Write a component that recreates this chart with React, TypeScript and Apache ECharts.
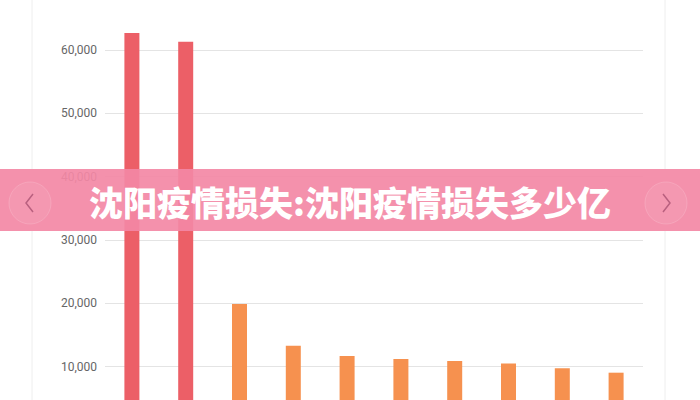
import React, { useEffect, useRef } from "react";
import * as echarts from "echarts";

const categories = ["1", "2", "3", "4", "5", "6", "7", "8", "9", "10"];
const values = [62700, 61300, 19900, 13300, 11700, 11200, 10900, 10500, 9750, 9050];
const highlightCount = 2;
const yTicks = [0, 10000, 20000, 30000, 40000, 50000, 60000, 70000];
const bannerTitle = "沈阳疫情损失:沈阳疫情损失多少亿";

const RED = "#ec5f67";
const ORANGE = "#f6914f";
const OFFSET = 20; // chart canvas starts 20px above the visible page

export default function App() {
  const ref = useRef<HTMLDivElement>(null);
  useEffect(() => {
    if (!ref.current) return;
    const chart = echarts.init(ref.current, undefined, { renderer: "svg" });
    const Y = (y: number) => y + OFFSET;
    chart.setOption({
      animation: false,
      backgroundColor: "#ffffff",
      grid: { left: 105, right: 57, top: 6.7, bottom: 10, containLabel: false },
      xAxis: {
        type: "category",
        data: categories,
        axisLine: { show: false },
        axisTick: { show: false },
        axisLabel: { show: false },
      },
      yAxis: {
        type: "value",
        min: yTicks[0],
        max: yTicks[yTicks.length - 1],
        interval: 10000,
        axisLine: { show: false },
        axisTick: { show: false },
        splitLine: { lineStyle: { color: "#e4e4e4", width: 1 } },
        axisLabel: {
          margin: 8,
          color: "#666666",
          fontSize: 12,
          fontFamily: "Roboto, sans-serif",
          showMinLabel: false,
          showMaxLabel: false,
          formatter: (v: number) => v.toLocaleString("en-US"),
        },
      },
      series: [
        {
          type: "bar",
          barWidth: 15,
          data: values.map((v, i) => ({
            value: v,
            itemStyle: { color: i < highlightCount ? RED : ORANGE },
          })),
        },
      ],
      graphic: [
        { type: "line", shape: { x1: 32, y1: 0, x2: 32, y2: 460 }, style: { stroke: "#eeeeee", lineWidth: 1 }, z: 0 },
        { type: "line", shape: { x1: 665, y1: 0, x2: 665, y2: 460 }, style: { stroke: "#eeeeee", lineWidth: 1 }, z: 0 },
        {
          type: "rect",
          shape: { x: 0, y: Y(169), width: 700, height: 62 },
          style: { fill: "rgba(243,136,165,0.92)" },
          z: 100,
        },
        {
          type: "circle",
          shape: { cx: 30, cy: Y(203), r: 21 },
          style: { fill: "rgba(255,255,255,0.07)", stroke: "rgba(255,255,255,0.15)", lineWidth: 1 },
          z: 101,
        },
        {
          type: "circle",
          shape: { cx: 666, cy: Y(203), r: 21 },
          style: { fill: "rgba(255,255,255,0.07)", stroke: "rgba(255,255,255,0.15)", lineWidth: 1 },
          z: 101,
        },
        {
          type: "polyline",
          shape: { points: [[33, Y(194)], [26, Y(203)], [33, Y(212)]] },
          style: { stroke: "#b9607f", lineWidth: 1.5, fill: "none" },
          z: 102,
        },
        {
          type: "polyline",
          shape: { points: [[663, Y(194)], [670, Y(203)], [663, Y(212)]] },
          style: { stroke: "#b9607f", lineWidth: 1.5, fill: "none" },
          z: 102,
        },
        {
          type: "text",
          x: 350,
          y: Y(201),
          style: {
            text: bannerTitle,
            fill: "#ffffff",
            font: "900 34px 'Noto Sans CJK SC', sans-serif",
            textAlign: "center",
            textVerticalAlign: "middle",
          },
          z: 103,
        },
      ],
    });
    return () => chart.dispose();
  }, []);
  return (
    <div style={{ position: "fixed", left: 0, top: 0, width: 700, height: 400, overflow: "hidden" }}>
      <div
        ref={ref}
        style={{ position: "absolute", left: 0, top: -OFFSET, width: 700, height: 400 + OFFSET + 40 }}
      />
    </div>
  );
}
